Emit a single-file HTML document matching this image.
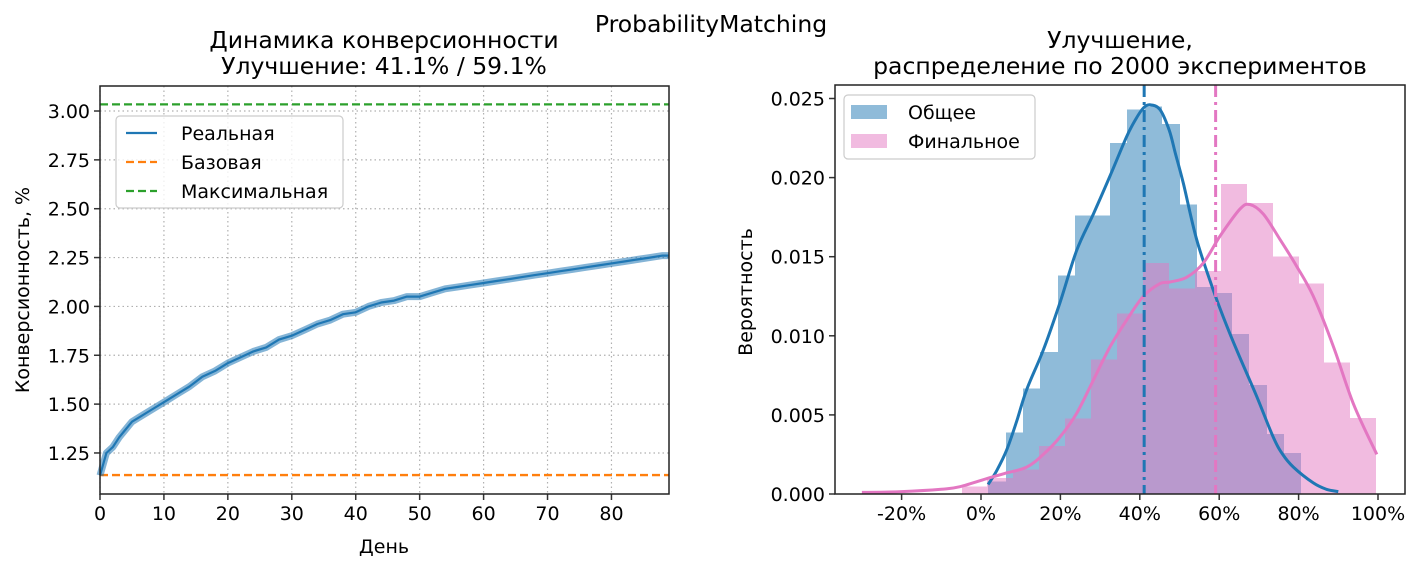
<!DOCTYPE html>
<html><head><meta charset="utf-8">
<style>
html,body{margin:0;padding:0;background:#fff;}
svg{display:block;font-family:"DejaVu Sans","Liberation Sans",sans-serif;}
</style></head>
<body>
<svg id="fig" width="1421" height="569" viewBox="0 0 1421 569" xmlns="http://www.w3.org/2000/svg">
<text x="711" y="32" font-size="23.5" text-anchor="middle" fill="#000">ProbabilityMatching</text>
<g id="left"></g>
<g id="right"></g>
</svg>
<script>
// ---- left chart data ----
const days = [0,1,2,3,4,5,6,8,10,12,14,16,18,20,22,24,26,28,30,32,34,36,38,40,42,44,46,48,50,52,54,56,58,60,62,64,66,68,70,72,74,76,78,80,82,84,86,88,89];
const realConv = [1.135,1.25,1.28,1.33,1.37,1.41,1.43,1.47,1.51,1.55,1.59,1.64,1.67,1.71,1.74,1.77,1.79,1.83,1.85,1.88,1.91,1.93,1.96,1.97,2.0,2.02,2.03,2.05,2.05,2.07,2.09,2.10,2.11,2.12,2.13,2.14,2.15,2.16,2.17,2.18,2.19,2.20,2.21,2.22,2.23,2.24,2.25,2.26,2.26];
const baseConv = 1.137;
const maxConv = 3.034;
const leftXTicks = [0,10,20,30,40,50,60,70,80];
const leftYTicks = [1.25,1.50,1.75,2.00,2.25,2.50,2.75,3.00];

// ---- right chart data ----
const blueBinStart = 1.84, blueBinWidth = 4.38;
const blueHeights = [0.0008,0.00388,0.00668,0.00897,0.0138,0.0176,0.0176,0.0222,0.0243,0.0245,0.0234,0.0183,0.0131,0.0127,0.0101,0.0069,0.0038,0.0026];
const pinkBinStart = -4.9, pinkBinWidth = 6.53;
const pinkHeights = [0.00046,0.0010,0.00156,0.00303,0.00478,0.0085,0.0114,0.0146,0.0130,0.0141,0.0196,0.0184,0.0150,0.0133,0.0083,0.0048];
const blueKdeX = [1.8,4,6.5,9,11.5,15.7,19.9,24.1,28.3,32.5,36.7,39,40.9,42.6,45.1,47.4,49,51,54.3,58.5,61,64.4,69.4,73.6,76,78.7,83.7,87,90];
const blueKdeY = [0.0006,0.0015,0.0028,0.0046,0.0066,0.0091,0.0121,0.0154,0.0177,0.0201,0.0226,0.0237,0.0244,0.0246,0.0243,0.0230,0.0215,0.0196,0.0161,0.0129,0.0112,0.0091,0.0062,0.0036,0.0025,0.0017,0.0007,0.0003,0.00015];
const pinkKdeX = [-30,-20,-10,-5.3,1.8,6,11.5,15.7,19.9,24.1,28.3,32.5,36.7,40.9,45.1,47.6,51.8,56,60.2,65.2,67.7,71.1,75.3,79.5,83.7,88.8,93.8,99.7];
const pinkKdeY = [0.0001,0.00015,0.0003,0.00046,0.001,0.0013,0.0017,0.0025,0.0036,0.0051,0.0072,0.0093,0.0110,0.0125,0.0133,0.0134,0.0137,0.0146,0.0163,0.0180,0.0183,0.0177,0.0161,0.0144,0.0125,0.0093,0.0057,0.0025];
const meanTotal = 41.1, meanFinal = 59.1;
const rightXTicks = [-20,0,20,40,60,80,100];
const rightYTicks = [0,0.005,0.010,0.015,0.020,0.025];

const NS = "http://www.w3.org/2000/svg";
const TF = 19, HF = 23.5;
function mk(parent, tag, attrs, text){
  const e = document.createElementNS(NS, tag);
  for (const k in attrs) e.setAttribute(k, attrs[k]);
  if (text !== undefined) e.textContent = text;
  parent.appendChild(e);
  return e;
}
function smooth(pts){
  let d = 'M'+pts[0][0].toFixed(1)+','+pts[0][1].toFixed(1);
  for (let i=0;i<pts.length-1;i++){
    const p0=pts[Math.max(0,i-1)], p1=pts[i], p2=pts[i+1], p3=pts[Math.min(pts.length-1,i+2)];
    const c1x=p1[0]+(p2[0]-p0[0])/6, c1y=p1[1]+(p2[1]-p0[1])/6;
    const c2x=p2[0]-(p3[0]-p1[0])/6, c2y=p2[1]-(p3[1]-p1[1])/6;
    d+=' C'+c1x.toFixed(1)+','+c1y.toFixed(1)+' '+c2x.toFixed(1)+','+c2y.toFixed(1)+' '+p2[0].toFixed(1)+','+p2[1].toFixed(1);
  }
  return d;
}

// ===== LEFT =====
const L = document.getElementById('left');
const lx0=100, lx1=669, ly0=86, ly1=494, dMin=0, dMax=89, cMin=1.040, cMax=3.128;
const lxs = d => lx0 + (d-dMin)/(dMax-dMin)*(lx1-lx0);
const lys = c => ly1 - (c-cMin)/(cMax-cMin)*(ly1-ly0);

leftXTicks.forEach(t=>{
  let g = mk(L,'line',{x1:lxs(t),x2:lxs(t),y1:ly0,y2:ly1,stroke:'#b0b0b0','stroke-width':1.2,'stroke-dasharray':'1.5,3'});
  
  
  let tk = mk(L,'line',{x1:lxs(t),x2:lxs(t),y1:ly1,y2:ly1+6,stroke:'#333','stroke-width':1.5});
  
  
  let tl = mk(L,'text',{x:lxs(t),y:ly1+26,'font-size':TF,'text-anchor':'middle'},String(t));
  
  
});
leftYTicks.forEach(t=>{
  let g = mk(L,'line',{x1:lx0,x2:lx1,y1:lys(t),y2:lys(t),stroke:'#b0b0b0','stroke-width':1.2,'stroke-dasharray':'1.5,3'});
  
  
  let tk = mk(L,'line',{x1:lx0-6,x2:lx0,y1:lys(t),y2:lys(t),stroke:'#333','stroke-width':1.5});
  
  
  let tl = mk(L,'text',{x:lx0-10,y:lys(t)+7,'font-size':TF,'text-anchor':'end'},t.toFixed(2));
  
  
});
let maxL = mk(L,'line',{x1:lx0,x2:lx1,y1:lys(maxConv),y2:lys(maxConv),stroke:'#2ca02c','stroke-width':2.3,'stroke-dasharray':'8,4'});


let baseL = mk(L,'line',{x1:lx0,x2:lx1,y1:lys(baseConv),y2:lys(baseConv),stroke:'#ff7f0e','stroke-width':2.3,'stroke-dasharray':'8,4'});


const realPts = days.map((d,i)=>lxs(d).toFixed(1)+','+lys(realConv[i]).toFixed(1)).join(' ');
let band = mk(L,'polyline',{points:realPts,fill:'none',stroke:'#1f77b4','stroke-opacity':0.55,'stroke-width':7,'stroke-linejoin':'round'});


let realL = mk(L,'polyline',{points:realPts,fill:'none',stroke:'#1f77b4','stroke-width':2.2,'stroke-linejoin':'round'});


let lframe = mk(L,'rect',{x:lx0,y:ly0,width:lx1-lx0,height:ly1-ly0,fill:'none',stroke:'#222','stroke-width':1.5});


let lt1 = mk(L,'text',{x:384,y:48,'font-size':HF,'text-anchor':'middle'},'Динамика конверсионности');


let lt2 = mk(L,'text',{x:384,y:74,'font-size':HF,'text-anchor':'middle'},'Улучшение: 41.1% / 59.1%');


let lxl = mk(L,'text',{x:384,y:553,'font-size':TF,'text-anchor':'middle'},'День');


let lyl = mk(L,'text',{x:0,y:0,'font-size':TF,'text-anchor':'middle',transform:'translate(29,290) rotate(-90)'},'Конверсионность, %');


// legend
let lg = mk(L,'g',{});


let lgb = mk(lg,'rect',{x:116,y:116,width:227,height:92,rx:4,fill:'#fff','fill-opacity':0.8,stroke:'#ccc','stroke-width':1.2});


[['Реальная','#1f77b4',''],['Базовая','#ff7f0e','8,4'],['Максимальная','#2ca02c','8,4']].forEach((e,i)=>{
  const y = 133 + i*29;
  let s = mk(lg,'line',{x1:126,x2:157,y1:y,y2:y,stroke:e[1],'stroke-width':2.3,'stroke-dasharray':e[2]||'none'});
  
  
  let t = mk(lg,'text',{x:181,y:y+7,'font-size':TF},e[0]);
  
  
});

// ===== RIGHT =====
const R = document.getElementById('right');
const rx0=835, rx1=1405, ry0=85, ry1=494;
const rxs = v => 981 + v*3.97;
const rys = p => ry1 - p*15820;

rightXTicks.forEach(t=>{
  let tk = mk(R,'line',{x1:rxs(t),x2:rxs(t),y1:ry1,y2:ry1+6,stroke:'#333','stroke-width':1.5});
  
  
  let tl = mk(R,'text',{x:rxs(t),y:ry1+26,'font-size':TF,'text-anchor':'middle'},t+'%');
  
  
});
rightYTicks.forEach(t=>{
  let tk = mk(R,'line',{x1:rx0-6,x2:rx0,y1:rys(t),y2:rys(t),stroke:'#333','stroke-width':1.5});
  
  
  let tl = mk(R,'text',{x:rx0-10,y:rys(t)+7,'font-size':TF,'text-anchor':'end'},t.toFixed(3));
  
  
});
blueHeights.forEach((h,i)=>{
  const a = Math.round(rxs(blueBinStart+i*blueBinWidth)), b = Math.round(rxs(blueBinStart+(i+1)*blueBinWidth));
  let r = mk(R,'rect',{x:a,y:rys(h),width:b-a,height:ry1-rys(h),fill:'#1f77b4','fill-opacity':0.5,'shape-rendering':'crispEdges'});
  
  
});
pinkHeights.forEach((h,i)=>{
  const a = Math.round(rxs(pinkBinStart+i*pinkBinWidth)), b = Math.round(rxs(pinkBinStart+(i+1)*pinkBinWidth));
  let r = mk(R,'rect',{x:a,y:rys(h),width:b-a,height:ry1-rys(h),fill:'#e377c2','fill-opacity':0.5,'shape-rendering':'crispEdges'});
  
  
});
let bk = mk(R,'path',{d:smooth(blueKdeX.map((x,i)=>[rxs(x),rys(blueKdeY[i])])),fill:'none',stroke:'#1f77b4','stroke-width':3,'stroke-linejoin':'round'});


let pk = mk(R,'path',{d:smooth(pinkKdeX.map((x,i)=>[rxs(x),rys(pinkKdeY[i])])),fill:'none',stroke:'#e377c2','stroke-width':3,'stroke-linejoin':'round'});


let bm = mk(R,'line',{x1:rxs(meanTotal),x2:rxs(meanTotal),y1:ry0,y2:ry1,stroke:'#1f77b4','stroke-width':3,'stroke-dasharray':'12,5,3,5'});


let pm = mk(R,'line',{x1:rxs(meanFinal),x2:rxs(meanFinal),y1:ry0,y2:ry1,stroke:'#e377c2','stroke-width':3,'stroke-dasharray':'12,5,3,5'});


let rframe = mk(R,'rect',{x:rx0,y:ry0,width:rx1-rx0,height:ry1-ry0,fill:'none',stroke:'#222','stroke-width':1.5});


let rt1 = mk(R,'text',{x:1120,y:48,'font-size':HF,'text-anchor':'middle'},'Улучшение,');


let rt2 = mk(R,'text',{x:1120,y:74,'font-size':HF,'text-anchor':'middle'},'распределение по 2000 экспериментов');


let ryl = mk(R,'text',{x:0,y:0,'font-size':TF,'text-anchor':'middle',transform:'translate(752,292) rotate(-90)'},'Вероятность');


let rg = mk(R,'g',{});


let rgb = mk(rg,'rect',{x:844,y:95,width:191,height:64,rx:4,fill:'#fff','fill-opacity':0.8,stroke:'#ccc','stroke-width':1.2});


[['Общее','#1f77b4'],['Финальное','#e377c2']].forEach((e,i)=>{
  const y = 112 + i*29;
  let s = mk(rg,'rect',{x:851,y:y-7,width:36,height:14,fill:e[1],'fill-opacity':0.5});
  
  
  let t = mk(rg,'text',{x:908,y:y+7,'font-size':TF},e[0]);
  
  
});
</script>
</body></html>
